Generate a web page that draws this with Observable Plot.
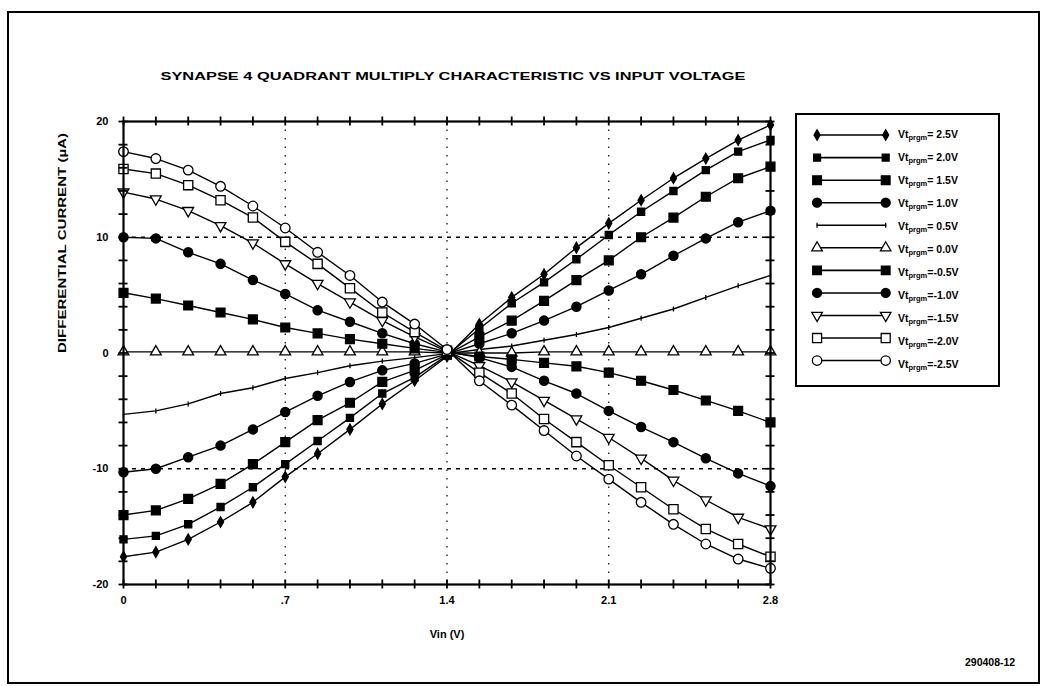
<!DOCTYPE html>
<html>
<head>
<meta charset="utf-8">
<script src="https://cdn.jsdelivr.net/npm/d3@7"></script>
<script src="https://cdn.jsdelivr.net/npm/@observablehq/plot@0.6"></script>
<style>
  html, body { margin: 0; padding: 0; background: #fff; }
  #page { position: relative; width: 1047px; height: 686px; overflow: hidden;
          font-family: "Liberation Sans", Arial, sans-serif; font-weight: bold; color: #000; }
  #border { position: absolute; left: 7px; top: 11px; width: 1033px; height: 673px;
            border: 2px solid #000; box-sizing: border-box; }
  #chart { position: absolute; left: 0; top: 0; }
  #legend { position: absolute; left: 795px; top: 113px; width: 205px; height: 274px;
            border: 2px solid #000; box-sizing: border-box; }
  #legend svg { position: absolute; left: -2px; top: -2px; }
  .leg-label { position: absolute; left: 898px; font-size: 10.5px; line-height: 12px; white-space: nowrap; }
  .leg-label sub { font-size: 7.5px; vertical-align: -2px; }
  #code { position: absolute; left: 965px; top: 656px; font-size: 10.5px; }
</style>
</head>
<body>
<div id="page">
  <div id="border"></div>
  <div id="chart"></div>
  <div id="legend"></div>
  <div id="code">290408-12</div>
</div>
<script>
// Input voltage sample points (V)
const vin = [0, 0.14, 0.28, 0.42, 0.56, 0.7, 0.84, 0.98, 1.12, 1.26, 1.4,
             1.54, 1.68, 1.82, 1.96, 2.1, 2.24, 2.38, 2.52, 2.66, 2.8];

// Programmed threshold offsets, one curve each
const vtKeys   = ["2.5", "2.0", "1.5", "1.0", "0.5", "0.0", "-0.5", "-1.0", "-1.5", "-2.0", "-2.5"];
const vtLabels = ["2.5V", "2.0V", "1.5V", "1.0V", "0.5V", "0.0V", "-0.5V", "-1.0V", "-1.5V", "-2.0V", "-2.5V"];

// Differential current (µA) for each curve at the vin points above
const iVt25  = [-17.6, -17.2, -16.1, -14.6, -12.9, -10.7, -8.7, -6.6, -4.4, -2.4, -0.3, 2.5, 4.8, 6.8, 9.1, 11.2, 13.2, 15.1, 16.8, 18.4, 19.7];
const iVt20  = [-16.1, -15.8, -14.8, -13.3, -11.6, -9.6, -7.6, -5.6, -3.5, -2.1, -0.2, 2.1, 4.3, 6.1, 8.1, 10.2, 12.2, 14.0, 15.8, 17.4, 18.4];
const iVt15  = [-14.0, -13.6, -12.6, -11.3, -9.6, -7.7, -5.8, -4.3, -2.5, -1.5, -0.15, 1.4, 2.8, 4.5, 6.3, 8.0, 10.0, 11.7, 13.5, 15.1, 16.1];
const iVt10  = [-10.3, -10.0, -9.0, -8.0, -6.6, -5.1, -3.7, -2.5, -1.5, -0.9, -0.1, 0.8, 1.7, 2.8, 4.0, 5.4, 6.8, 8.4, 9.9, 11.3, 12.3];
const iVt05  = [-5.3, -5.0, -4.4, -3.5, -3.0, -2.2, -1.7, -1.1, -0.7, -0.4, -0.05, 0.3, 0.6, 1.1, 1.6, 2.2, 3.0, 3.8, 4.8, 5.8, 6.7];
const iVt00  = [0.1, 0.1, 0.1, 0.1, 0.1, 0.1, 0.1, 0.1, 0.1, 0.1, 0, 0, 0, 0.1, 0.1, 0.1, 0.1, 0.1, 0.1, 0.1, 0.1];
const iVtm05 = [5.2, 4.7, 4.1, 3.5, 2.9, 2.2, 1.7, 1.2, 0.8, 0.4, 0.05, -0.3, -0.55, -0.85, -1.15, -1.7, -2.4, -3.2, -4.1, -5.0, -6.0];
const iVtm10 = [10.0, 9.9, 8.7, 7.7, 6.3, 5.1, 3.7, 2.7, 1.7, 0.8, 0.1, -0.4, -1.2, -2.4, -3.5, -5.0, -6.4, -7.7, -9.1, -10.4, -11.5];
const iVtm15 = [13.9, 13.3, 12.3, 11.0, 9.5, 7.7, 6.0, 4.4, 2.8, 1.4, 0.15, -1.1, -2.5, -4.1, -5.7, -7.3, -9.1, -11.0, -12.7, -14.2, -15.2];
const iVtm20 = [15.9, 15.5, 14.5, 13.2, 11.7, 9.6, 7.7, 5.6, 3.5, 1.8, 0.2, -1.7, -3.5, -5.7, -7.7, -9.7, -11.6, -13.5, -15.2, -16.5, -17.6];
const iVtm25 = [17.4, 16.8, 15.8, 14.4, 12.7, 10.8, 8.7, 6.7, 4.4, 2.5, 0.3, -2.4, -4.5, -6.7, -8.9, -10.9, -12.9, -14.8, -16.5, -17.8, -18.6];

// Axis ticks
const xTickValues = [0, 0.7, 1.4, 2.1, 2.8];
const xTickLabels = ["0", ".7", "1.4", "2.1", "2.8"];
const yTickValues = [20, 10, 0, -10, -20];
const yTickLabels = ["20", "10", "0", "-10", "-20"];
const yMinorTicks = [20, 18, 16, 14, 12, 10, 8, 6, 4, 2, 0, -2, -4, -6, -8, -10, -12, -14, -16, -18, -20];
const xGridValues = [0.7, 1.4, 2.1];
const yGridValues = [10, -10];

const titleText = "SYNAPSE 4 QUADRANT MULTIPLY CHARACTERISTIC VS INPUT VOLTAGE";
const xLabelText = "Vin (V)";
const yLabelText = "DIFFERENTIAL CURRENT (\u00b5A)";

const currents = [iVt25, iVt20, iVt15, iVt10, iVt05, iVt00, iVtm05, iVtm10, iVtm15, iVtm20, iVtm25];

// Long-format table for Plot
const rows = [];
vtKeys.forEach((k, s) => currents[s].forEach((v, j) => rows.push({vt: k, vin: vin[j], i: v})));

// Custom symbols
const sqrt3 = Math.sqrt(3);
const triangleDown = {
  draw(ctx, size) {
    const y = -Math.sqrt(size / (sqrt3 * 3));
    ctx.moveTo(0, -y * 2);
    ctx.lineTo(-sqrt3 * y, y);
    ctx.lineTo(sqrt3 * y, y);
    ctx.closePath();
  }
};
const vDash = { draw(ctx) { ctx.moveTo(0, -2.5); ctx.lineTo(0, 2.5); } };

// Marker style for each curve
const markerStyle = {
  "2.5":  {symbol: "diamond", r: 3.2, fill: "black", stroke: "black"},
  "2.0":  {symbol: "square",  r: 4.0, fill: "black", stroke: "black"},
  "1.5":  {symbol: "square",  r: 5.0, fill: "black", stroke: "black"},
  "1.0":  {symbol: "circle",  r: 4.6, fill: "black", stroke: "black"},
  "0.5":  {symbol: vDash,     r: 3.0, fill: "none",  stroke: "black"},
  "0.0":  {symbol: "triangle",r: 4.0, fill: "white", stroke: "black"},
  "-0.5": {symbol: "square",  r: 5.0, fill: "black", stroke: "black"},
  "-1.0": {symbol: "circle",  r: 4.6, fill: "black", stroke: "black"},
  "-1.5": {symbol: triangleDown, r: 4.0, fill: "white", stroke: "black"},
  "-2.0": {symbol: "square",  r: 5.2, fill: "white", stroke: "black"},
  "-2.5": {symbol: "circle",  r: 4.8, fill: "white", stroke: "black"}
};

const font = "'Liberation Sans', Arial, sans-serif";
const tickStyle = {stroke: "black", strokeWidth: 1.8};

const chart = Plot.plot({
  width: 1047,
  height: 686,
  marginLeft: 123,
  marginRight: 277,
  marginTop: 121,
  marginBottom: 102,
  style: {fontFamily: font, fontSize: "11px", fontWeight: "bold", background: "transparent", color: "black"},
  x: {domain: [0, 2.8]},
  y: {domain: [-20, 20]},
  marks: [
    Plot.ruleX(xGridValues, {stroke: "black", strokeWidth: 1.2, strokeDasharray: "1.5,7"}),
    Plot.ruleY(yGridValues, {stroke: "black", strokeWidth: 1.6, strokeDasharray: "4,5"}),
    Plot.line(rows, {x: "vin", y: "i", z: "vt", stroke: "black", strokeWidth: 1.4}),
    ...vtKeys.map(k => Plot.dot(rows.filter(d => d.vt === k), {
      x: "vin", y: "i",
      symbol: () => markerStyle[k].symbol,
      r: markerStyle[k].r, fill: markerStyle[k].fill, stroke: markerStyle[k].stroke, strokeWidth: 1.3
    })),
    Plot.frame({stroke: "black", strokeWidth: 2.2}),
    // short tick marks crossing every side of the frame
    Plot.ruleY(yMinorTicks, {x1: 0, x2: 0, insetLeft: -4.5, insetRight: -4.5, ...tickStyle}),
    Plot.ruleY(yMinorTicks, {x1: 2.8, x2: 2.8, insetLeft: -4.5, insetRight: -4.5, ...tickStyle}),
    Plot.ruleX(vin, {y1: -20, y2: -20, insetTop: -4.5, insetBottom: -4.5, ...tickStyle}),
    Plot.ruleX(vin, {y1: 20, y2: 20, insetTop: -4.5, insetBottom: -4.5, ...tickStyle}),
    // tick labels
    Plot.axisX(xTickValues, {anchor: "bottom", tickSize: 0, tickPadding: 12, tickFormat: d => xTickLabels[xTickValues.indexOf(d)], label: null, fontSize: 11, fontWeight: "bold"}),
    Plot.axisY(yTickValues, {anchor: "left", tickSize: 0, tickPadding: 15, tickFormat: d => yTickLabels[yTickValues.indexOf(d)], label: null, fontSize: 11, fontWeight: "bold"}),
    Plot.text([xLabelText], {frameAnchor: "bottom", dy: 53, fontSize: 11, fontWeight: "bold"}),
    Plot.text([yLabelText], {frameAnchor: "left", dx: -61, rotate: -90, fontSize: 10.5, fontWeight: "bold"}),
    Plot.text([titleText], {frameAnchor: "top", dy: -50, dx: 6, fontSize: 11.5, fontWeight: "bold"})
  ]
});
document.getElementById("chart").appendChild(chart);

// stretch the title and axis title to their printed widths
d3.select(chart).selectAll("text").each(function() {
  if (this.textContent === titleText) d3.select(this).attr("textLength", 585).attr("lengthAdjust", "spacingAndGlyphs");
  if (this.textContent === yLabelText) d3.select(this).attr("textLength", 220).attr("lengthAdjust", "spacingAndGlyphs");
});

// Legend: a line with a marker at each end, per curve
const legendRows = [];
vtKeys.forEach(k => { legendRows.push({vt: k, pos: 0}); legendRows.push({vt: k, pos: 1}); });

const legend = Plot.plot({
  width: 205,
  height: 274,
  margin: 0,
  style: {background: "transparent"},
  x: {domain: [0, 1], range: [22, 92], axis: null},
  y: {type: "point", domain: vtKeys, range: [22, 252], padding: 0, axis: null},
  marks: [
    Plot.line(legendRows, {x: "pos", y: "vt", z: "vt", stroke: "black", strokeWidth: 1.6}),
    ...vtKeys.map(k => Plot.dot(legendRows.filter(d => d.vt === k), {
      x: "pos", y: "vt",
      symbol: () => markerStyle[k].symbol,
      r: markerStyle[k].r, fill: markerStyle[k].fill, stroke: markerStyle[k].stroke, strokeWidth: 1.3
    }))
  ]
});
document.getElementById("legend").appendChild(legend);

const page = document.getElementById("page");
const ly = d3.scalePoint().domain(vtKeys).range([113 + 22, 113 + 252]);
vtKeys.forEach((k, idx) => {
  const div = document.createElement("div");
  div.className = "leg-label";
  div.style.top = (ly(k) - 7) + "px";
  const val = vtLabels[idx];
  div.innerHTML = "Vt<sub>prgm</sub>=" + (val.startsWith("-") ? "" : " ") + val;
  page.appendChild(div);
});
</script>
</body>
</html>
